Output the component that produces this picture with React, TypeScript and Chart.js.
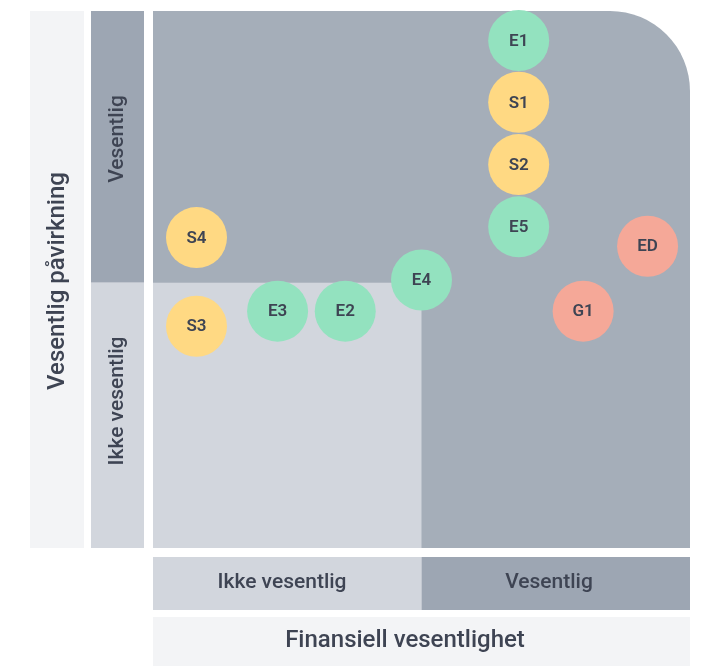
import React, { useEffect, useRef } from "react";
import { Chart, registerables } from "chart.js";

Chart.register(...registerables);

// ---- data ----
const pointLabels = ["E1", "S1", "S2", "E5", "ED", "G1", "S4", "S3", "E3", "E2", "E4"];
const groups = ["env", "soc", "soc", "env", "gov", "gov", "soc", "soc", "env", "env", "env"];
const financialValues = [68.1, 68.1, 68.1, 68.1, 92.1, 80.1, 8.1, 8.1, 23.2, 35.8, 50.0];
const impactValues = [94.5, 83.0, 71.4, 59.8, 56.2, 44.1, 57.8, 41.3, 44.1, 44.1, 49.9];

const xBandLabels = ["Ikke vesentlig", "Vesentlig"];
const yBandLabels = ["Ikke vesentlig", "Vesentlig"];
const xAxisTitle = "Finansiell vesentlighet";
const yAxisTitle = "Vesentlig påvirkning";
const xThreshold = 50;
const yThreshold = 49.4;

const groupColors: Record<string, string> = {
  env: "#93E2BF",
  soc: "#FFD983",
  gov: "#F5A898",
};

const TEXT = "#3E4453";
const DARK_PLOT = "#A5AEB9";
const DARK_BAND = "#9DA6B3";
const LIGHT = "#D2D6DD";
const PALE = "#F3F4F6";
const FONT = "Roboto, 'Noto Sans', sans-serif";

const backgroundPlugin = {
  id: "matrixBackground",
  beforeDraw(chart: any) {
    const { ctx, chartArea, scales } = chart;
    const { left, right, top, bottom } = chartArea;
    const mx = scales.x.getPixelForValue(xThreshold);
    const my = scales.y.getPixelForValue(yThreshold);
    const R = 80;
    ctx.save();
    ctx.fillStyle = DARK_PLOT;
    ctx.beginPath();
    ctx.moveTo(left, top);
    ctx.lineTo(right - R, top);
    ctx.arcTo(right, top, right, top + R, R);
    ctx.lineTo(right, bottom);
    ctx.lineTo(left, bottom);
    ctx.closePath();
    ctx.fill();
    ctx.fillStyle = LIGHT;
    ctx.fillRect(left, my, mx - left, bottom - my);

    ctx.fillStyle = PALE;
    ctx.fillRect(30, top, 54, bottom - top);
    ctx.fillStyle = DARK_BAND;
    ctx.fillRect(91, top, 53, my - top);
    ctx.fillStyle = LIGHT;
    ctx.fillRect(91, my, 53, bottom - my);

    ctx.fillStyle = LIGHT;
    ctx.fillRect(left, 557, mx - left, 53);
    ctx.fillStyle = DARK_BAND;
    ctx.fillRect(mx, 557, right - mx, 53);
    ctx.fillStyle = PALE;
    ctx.fillRect(left, 617, right - left, 60);

    ctx.fillStyle = TEXT;
    ctx.textAlign = "center";
    ctx.textBaseline = "middle";

    const vtext = (t: string, x: number, y: number, font: string) => {
      ctx.save();
      ctx.translate(x, y);
      ctx.rotate(-Math.PI / 2);
      ctx.font = font;
      ctx.fillText(t, 0, 0);
      ctx.restore();
    };
    vtext(yAxisTitle, 58, 281, `500 24px ${FONT}`);
    vtext(yBandLabels[1], 118, 139, `500 21px ${FONT}`);
    vtext(yBandLabels[0], 118, 401, `500 21px ${FONT}`);

    ctx.font = `500 21px ${FONT}`;
    ctx.fillText(xBandLabels[0], 282, 583);
    ctx.fillText(xBandLabels[1], 549, 583);
    ctx.font = `500 24px ${FONT}`;
    ctx.fillText(xAxisTitle, 405, 641);
    ctx.restore();
  },
};

const labelPlugin = {
  id: "bubbleLabels",
  afterDatasetsDraw(chart: any) {
    const { ctx } = chart;
    const meta = chart.getDatasetMeta(0);
    ctx.save();
    ctx.fillStyle = TEXT;
    ctx.font = `600 17px ${FONT}`;
    ctx.textAlign = "center";
    ctx.textBaseline = "middle";
    meta.data.forEach((el: any, i: number) => {
      ctx.fillText(pointLabels[i], el.x, el.y + 1);
    });
    ctx.restore();
  },
};

export default function App() {
  const ref = useRef<HTMLCanvasElement>(null);
  useEffect(() => {
    if (!ref.current) return;
    const chart = new Chart(ref.current, {
      type: "scatter",
      data: {
        datasets: [
          {
            data: financialValues.map((x, i) => ({ x, y: impactValues[i] })),
            backgroundColor: groups.map((g) => groupColors[g]),
            borderWidth: 0,
            pointRadius: 30.5,
            pointHoverRadius: 30.5,
            clip: false as any,
          },
        ],
      },
      options: {
        responsive: false,
        animation: false,
        events: [],
        layout: { autoPadding: false, padding: { left: 153, top: 11, right: 13, bottom: 118 } },
        scales: {
          x: { type: "linear", min: 0, max: 100, display: false },
          y: { type: "linear", min: 0, max: 100, display: false },
        },
        plugins: { legend: { display: false }, tooltip: { enabled: false } },
      },
      plugins: [backgroundPlugin, labelPlugin],
    });
    return () => chart.destroy();
  }, []);
  return (
    <div style={{ position: "absolute", left: 0, top: 0, width: 703, height: 666, background: "#fff" }}>
      <canvas ref={ref} width={703} height={666} style={{ display: "block" }} />
    </div>
  );
}
